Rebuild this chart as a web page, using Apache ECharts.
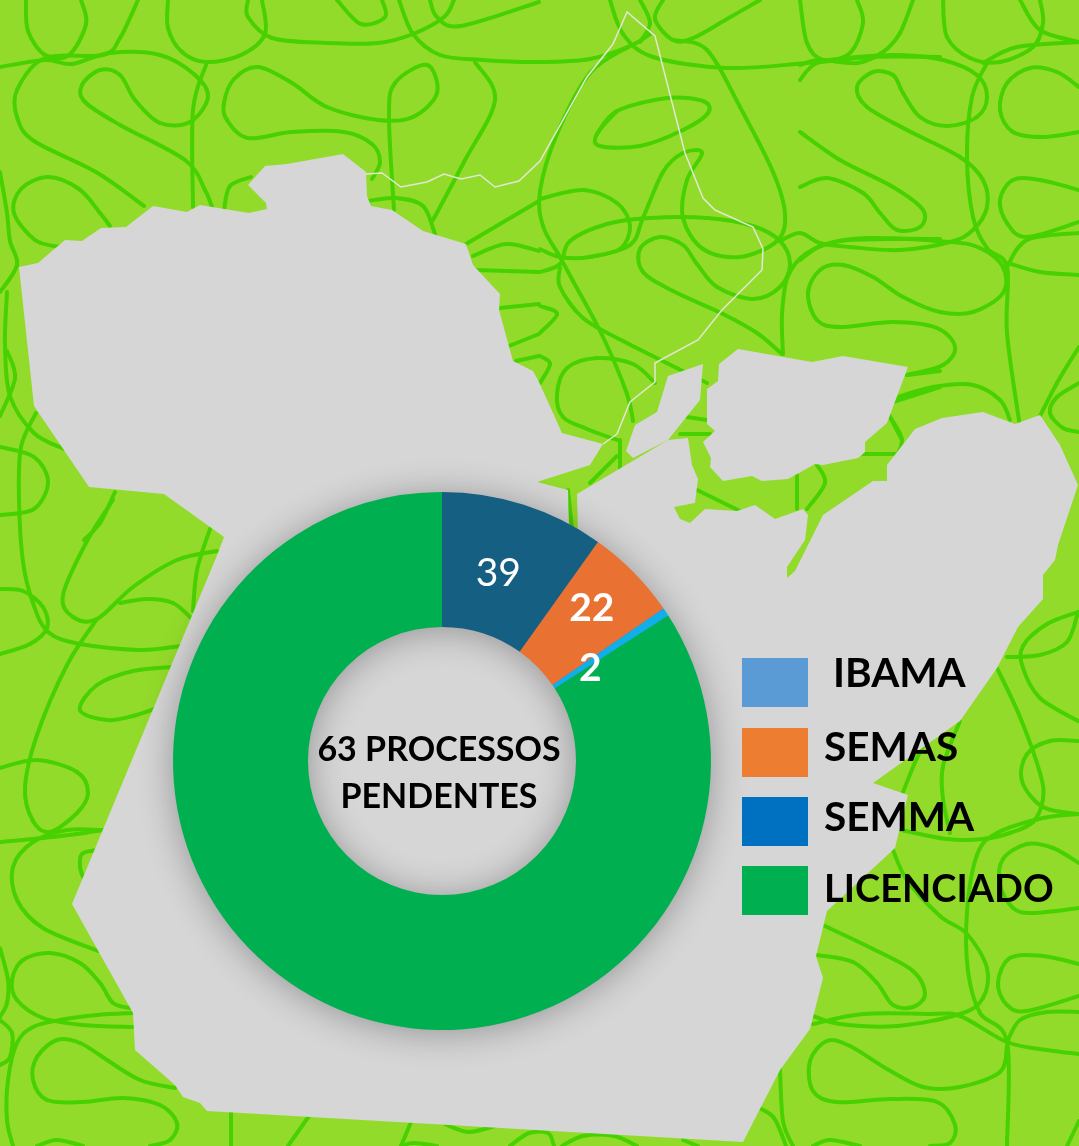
<!DOCTYPE html>
<html>
<head>
<meta charset="utf-8">
<title>Processos pendentes</title>
<style>
html, body { margin: 0; padding: 0; background: #93db2a; }
#chart1 { width: 1079px; height: 1146px; }
</style>
<script src="https://cdn.jsdelivr.net/npm/echarts@6/dist/echarts.min.js"></script>
</head>
<body>
<div id="chart1"></div>
<script>
// dados do grafico
const categories = ['IBAMA', 'SEMAS', 'SEMMA', 'LICENCIADO']
const values = [39, 22, 2, 333]
const sliceColors = ['#156082', '#e97132', '#10aeea', '#00b050']
const legendColors = ['#5b9bd5', '#ed7d31', '#0070c0', '#00b050']
const centerText = '63 PROCESSOS\nPENDENTES'

// desenho do mapa do Para (fundo decorativo)
const mapMain = [[19,267],[38,263],[65,240],[82,241],[101,228],[126,227],[153,206],[187,212],[200,205],[249,213],[267,209],[266,203],[248,185],[265,166],[287,164],[343,154],[366,172],[367,196],[371,206],[392,210],[423,231],[466,244],[473,265],[500,294],[499,310],[513,361],[533,371],[539,382],[562,433],[603,444],[590,465],[537,482],[568,490],[569,535],[578,535],[577,494],[668,440],[688,438],[692,465],[698,479],[695,503],[674,507],[680,519],[690,523],[705,509],[737,511],[755,505],[775,519],[803,509],[808,515],[805,540],[787,567],[787,578],[795,571],[823,515],[873,481],[887,481],[887,465],[915,429],[942,418],[983,412],[1015,424],[1040,415],[1060,445],[1078,485],[1058,545],[1055,560],[1043,575],[1043,599],[1018,627],[997,668],[960,721],[873,783],[908,795],[895,848],[827,911],[816,956],[823,978],[810,1029],[780,1070],[743,1142],[207,1111],[200,1103],[183,1097],[175,1085],[135,1050],[133,1013],[72,904],[218,553],[224,537],[164,494],[89,487],[34,406]]
const mapIsland1 = [[738,349],[812,362],[843,356],[908,367],[887,423],[865,442],[865,452],[858,458],[823,465],[815,464],[788,479],[762,481],[752,476],[723,481],[710,467],[711,458],[703,442],[715,431],[707,424],[707,389],[718,381],[719,364]]
const mapIsland2 = [[703,364],[668,376],[657,412],[635,425],[626,451],[633,458],[668,440],[700,400]]
const amapaLine = [[366,174],[382,173],[401,187],[427,182],[444,174],[461,179],[480,175],[495,187],[519,181],[540,161],[587,77],[613,44],[627,12],[655,36],[685,153],[703,198],[715,210],[753,227],[763,249],[762,270],[722,310],[698,340],[655,363],[655,382],[630,402],[617,434],[603,444]]

// rabiscos verdes do fundo
const squiggles = [
  [[26,0],[28,31],[45,55],[69,55],[86,24],[81,0]],
  [[138,0],[120,38],[103,55],[45,58],[17,90],[17,117],[34,141],[96,172],[144,206]],
  [[0,67],[45,60],[72,64],[110,53],[160,55],[195,75],[208,97],[190,122],[160,123],[135,100],[120,75],[100,70],[82,85],[85,102],[120,125],[185,160],[205,190],[212,207]],
  [[168,0],[168,28],[182,52],[206,62],[241,55],[265,34],[262,0]],
  [[248,0],[248,17],[272,38],[327,43],[378,43],[413,34],[444,17],[454,0]],
  [[206,65],[193,110],[193,207]],
  [[394,210],[389,117],[395,83],[427,65],[437,93],[413,117],[378,120],[327,107],[292,83],[258,67],[234,79],[224,103],[227,120],[248,138],[292,132],[344,132],[372,144],[380,162],[372,179]],
  [[399,0],[413,34],[440,55],[482,60],[539,62],[590,59],[630,46],[650,34]],
  [[430,0],[437,17],[461,26],[539,2]],
  [[475,62],[495,100],[464,162],[433,220]],
  [[337,0],[361,24],[385,17],[382,0]],
  [[0,172],[7,213],[10,241],[17,265],[0,292]],
  [[110,226],[100,213],[79,189],[48,177],[21,189],[14,213],[35,240],[60,247]],
  [[7,292],[5,344],[10,396],[34,433],[64,449]],
  [[0,416],[15,378],[7,351]],
  [[36,413],[21,447],[19,499],[23,562],[33,603],[48,632],[80,644],[140,650],[180,646]],
  [[0,447],[34,457],[48,482],[34,509],[0,515]],
  [[115,492],[100,523],[84,540]],
  [[368,201],[396,198],[423,206],[435,234]],
  [[224,210],[230,186],[251,177]],
  [[466,244],[539,201]],
  [[473,256],[506,244],[539,251]],
  [[475,270],[539,272]],
  [[500,308],[539,304]],
  [[509,346],[539,334]],
  [[516,361],[539,356]],
  [[0,589],[23,591],[43,607],[47,628],[30,644],[0,654]],
  [[113,500],[87,541],[63,595],[73,617],[97,619],[133,587],[177,560],[217,551]],
  [[210,529],[197,570],[193,611]],
  [[120,603],[147,599],[173,603],[192,619]],
  [[97,619],[67,665],[37,735],[25,788],[33,821],[50,832],[77,813],[88,793],[77,772],[37,760],[0,768]],
  [[173,667],[133,671],[97,685],[80,710],[107,720],[133,716],[157,708]],
  [[0,842],[43,838],[77,834],[103,830]],
  [[100,830],[67,830],[33,842],[13,867],[17,900],[43,928],[98,951]],
  [[97,850],[82,854],[80,867],[83,877]],
  [[130,1008],[113,1003],[100,983],[80,963],[50,953],[23,960],[12,980],[17,1000],[43,1018],[83,1025],[133,1027]],
  [[133,1013],[97,1015],[60,1020],[33,1027],[17,1043],[8,1080],[7,1120],[13,1146]],
  [[0,948],[8,980],[7,1003],[0,1017]],
  [[0,1020],[12,1033],[10,1057],[0,1065]],
  [[175,1088],[140,1080],[107,1060],[80,1043],[57,1040],[37,1057],[33,1080],[47,1100],[83,1102],[123,1098],[160,1105],[177,1123],[170,1140],[150,1146]],
  [[37,1146],[57,1140],[83,1146]],
  [[231,1110],[231,1146]],
  [[309,1116],[288,1146]],
  [[411,1122],[401,1146]],
  [[401,1146],[414,1143],[437,1146]],
  [[445,1124],[468,1132],[495,1126]],
  [[510,1146],[529,1133],[548,1133],[554,1146]],
  [[562,1146],[583,1136],[614,1136],[637,1146]],
  [[683,1140],[698,1146]],
  [[757,1107],[774,1118],[786,1146]],
  [[800,0],[807,43],[823,60],[850,53],[863,23],[857,0]],
  [[913,0],[900,33],[883,52],[857,63],[820,60],[800,65]],
  [[800,80],[817,63],[857,57],[900,55],[943,60],[977,75],[987,97],[977,117],[947,126],[920,117],[903,93],[893,75],[873,72],[857,87],[867,107],[907,130],[960,157],[983,180],[987,207],[973,230],[950,242],[900,250],[850,247],[820,243],[800,233],[780,241]],
  [[943,0],[947,37],[970,58],[1000,62],[1033,47],[1043,23],[1040,0]],
  [[1020,0],[1040,30],[1079,42]],
  [[987,63],[972,97],[967,157],[973,217],[987,248],[1007,267],[1007,333],[1020,427]],
  [[983,63],[1017,47],[1079,42]],
  [[1079,87],[1057,72],[1030,68],[1007,83],[1000,110],[1013,132],[1043,137],[1079,132]],
  [[800,132],[840,160],[893,187],[923,210],[920,227],[897,230],[880,213],[863,193],[827,178],[800,187]],
  [[1079,190],[1040,180],[1013,180],[1000,200],[1007,223],[1027,237],[1079,222]],
  [[800,260],[823,245],[867,238],[950,242],[980,248],[1003,267],[1003,293],[973,312],[940,312],[903,297],[873,277],[843,265],[820,270],[808,293],[817,320],[840,327],[893,322],[937,328],[955,347],[943,365],[907,375]],
  [[1007,267],[1027,240],[1079,233]],
  [[1008,263],[1040,272],[1079,275]],
  [[895,398],[933,387],[973,385],[1000,400],[1010,420]],
  [[1079,347],[1057,383],[1033,430]],
  [[1079,383],[1057,397],[1050,413],[1063,428],[1079,432]],
  [[888,413],[902,440]],
  [[610,0],[623,34],[653,57],[727,68],[807,63],[873,57],[940,57]],
  [[640,0],[650,23],[640,42]],
  [[760,0],[727,19],[693,38],[673,40],[655,19],[663,0]],
  [[673,40],[707,50],[740,107],[773,172],[785,214],[777,241],[740,257],[703,249],[683,218],[687,180],[702,153],[683,153],[663,172],[643,218],[630,245],[590,257],[560,257],[540,249]],
  [[630,46],[590,73],[557,134],[540,191],[543,226],[560,257],[573,281],[603,337],[627,394],[633,421]],
  [[597,134],[617,111],[667,98],[703,101],[708,113],[683,130],[640,146],[600,146],[597,134],[617,111]],
  [[540,199],[583,190],[617,203],[630,226],[620,249],[590,257]],
  [[540,272],[560,264],[570,241],[607,224],[650,218],[707,218],[753,226],[780,241],[790,264],[780,287],[753,299],[717,287],[697,264],[683,245],[660,237],[640,249],[643,272],[673,291],[723,314],[757,333],[782,354]],
  [[783,354],[782,314],[788,276],[807,253],[840,241],[890,239],[940,239]],
  [[560,268],[560,287],[583,318],[623,341],[707,383]],
  [[540,306],[557,314],[540,333]],
  [[540,356],[550,364],[540,383]],
  [[655,383],[633,364],[597,358],[567,368],[557,394],[563,417],[587,429],[617,440]],
  [[687,417],[707,420]],
  [[680,434],[710,434]],
  [[697,490],[740,511]],
  [[797,475],[797,509]],
  [[817,465],[825,483],[807,509]],
  [[863,454],[897,454]],
  [[890,417],[902,440],[893,463]],
  [[893,402],[940,387]],
  [[907,375],[940,371]],
  [[620,440],[620,471]],
  [[590,483],[617,456]],
  [[568,490],[573,540]],
  [[1078,612],[1047,624],[1023,646],[1023,668],[1040,698],[1078,721]],
  [[1007,657],[1040,655],[1067,642],[1078,612]],
  [[997,668],[1020,717],[1040,773],[1043,799],[1033,822],[1010,833],[983,839],[947,839],[897,829]],
  [[1078,741],[1050,741],[1027,754],[1022,781],[1043,807],[1079,814]],
  [[1079,814],[1043,818],[997,833],[977,855],[967,912],[968,971],[980,1013],[1007,1042],[1007,1146]],
  [[960,721],[943,766],[943,799],[950,833]],
  [[933,728],[917,758],[903,792]],
  [[893,850],[907,880],[940,916],[967,934],[987,968],[983,998],[960,1014],[897,1026],[840,1024],[813,1016]],
  [[825,926],[873,949],[913,971],[925,994],[913,1007],[893,1005],[877,983],[853,962],[817,955]],
  [[813,1024],[863,1014],[930,1014],[960,1016],[1007,1042],[1047,1050],[1079,1054]],
  [[1007,1042],[1020,1020],[1047,1012],[1079,1012]],
  [[1079,964],[1043,956],[1010,958],[998,983],[1007,1005],[1027,1011],[1079,996]],
  [[1079,863],[1053,848],[1027,844],[1003,859],[1000,885],[1013,908],[1033,913],[1079,908]],
  [[780,1069],[783,1121],[793,1146]],
  [[1007,1046],[1000,1072],[960,1087],[923,1087],[887,1069],[850,1046],[827,1041],[810,1061],[813,1091],[837,1102],[890,1099],[937,1102],[955,1125],[950,1143],[930,1146]],
  [[813,1146],[830,1140],[860,1146]],
  [[1079,1121],[1067,1146]]
]

const pieX = 442
const pieY = 761
const pieOuter = 269
const pieInner = 134
const fontName = 'Lato'

let background = [{
  type: 'rect',
  shape: { x: 0, y: 0, width: 1079, height: 1146 },
  style: { fill: '#93db2a' }
}]

// cada trecho do rabisco vira uma curva bezier (catmull-rom)
squiggles.forEach(function (pts) {
  for (let i = 0; i < pts.length - 1; i++) {
    const p0 = pts[i - 1] || pts[i]
    const p1 = pts[i]
    const p2 = pts[i + 1]
    const p3 = pts[i + 2] || p2
    background.push({
      type: 'bezierCurve',
      shape: {
        x1: p1[0], y1: p1[1],
        cpx1: p1[0] + (p2[0] - p0[0]) / 6, cpy1: p1[1] + (p2[1] - p0[1]) / 6,
        cpx2: p2[0] - (p3[0] - p1[0]) / 6, cpy2: p2[1] - (p3[1] - p1[1]) / 6,
        x2: p2[0], y2: p2[1]
      },
      style: { fill: null, stroke: '#48d100', lineWidth: 4, lineCap: 'round' }
    })
  }
})

const mapParts = [mapMain, mapIsland1, mapIsland2]
mapParts.forEach(function (pts) {
  background.push({ type: 'polygon', shape: { points: pts }, style: { fill: '#d6d6d6' } })
})
background.push({
  type: 'polyline',
  shape: { points: amapaLine },
  style: { fill: null, stroke: '#e2e6d6', lineWidth: 1.5 }
})
// sombra da rosca
background.push({
  type: 'ring',
  shape: { cx: pieX, cy: pieY, r: pieOuter - 1, r0: pieInner + 1 },
  style: { fill: '#777', shadowBlur: 36, shadowColor: 'rgba(0,0,0,0.32)', shadowOffsetY: 3 }
})
background.push({
  type: 'text',
  x: 439,
  y: 774,
  style: {
    text: centerText,
    fill: '#000',
    font: 'bold 34px ' + fontName,
    lineHeight: 47,
    align: 'center',
    verticalAlign: 'middle'
  }
})

// o texto da legenda nao fica centrado no quadrado, cada linha tem seu ajuste
const legendPads = [[0, 0, 18, 20], [0, 0, 10, 11], [0, 0, 8, 11], [0, 0, 2, 11]]
const legendSizes = [40.5, 40.5, 40.5, 38]
let legendRich = {}
categories.forEach(function (name, i) {
  legendRich['t' + i] = {
    color: '#000',
    fontFamily: fontName,
    fontWeight: 'bold',
    fontSize: legendSizes[i],
    height: 30,
    lineHeight: 30,
    padding: legendPads[i]
  }
})

let myChart = echarts.init(document.getElementById('chart1'))
let option = {
  animation: false,
  graphic: { elements: background },
  legend: {
    orient: 'vertical',
    left: 742,
    top: 653,
    padding: 0,
    icon: 'rect',
    itemWidth: 66,
    itemHeight: 49,
    itemGap: 20,
    selectedMode: false,
    formatter: function (name) {
      return '{t' + categories.indexOf(name) + '|' + name + '}'
    },
    textStyle: { rich: legendRich },
    data: categories.map(function (name, i) {
      return { name: name, itemStyle: { color: legendColors[i] } }
    })
  },
  series: [{
    type: 'pie',
    center: [pieX, pieY],
    radius: [pieInner, pieOuter],
    startAngle: 90,
    silent: true,
    itemStyle: { borderWidth: 0 },
    label: {
      show: true,
      position: 'inside',
      color: '#fff',
      fontFamily: fontName,
      fontSize: 39,
      fontWeight: 'bold',
      formatter: '{c}'
    },
    labelLine: { show: false },
    labelLayout: function (params) {
      const moves = [[-6, 7], [4, -9], [-22, 21], [0, 0]]
      return { dx: moves[params.dataIndex][0], dy: moves[params.dataIndex][1] }
    },
    data: categories.map(function (name, i) {
      let item = { name: name, value: values[i], itemStyle: { color: sliceColors[i] } }
      if (i === 0) item.label = { fontWeight: 'normal' }
      if (i === 3) item.label = { show: false }
      return item
    })
  }]
}
myChart.setOption(option)
</script>
</body>
</html>
